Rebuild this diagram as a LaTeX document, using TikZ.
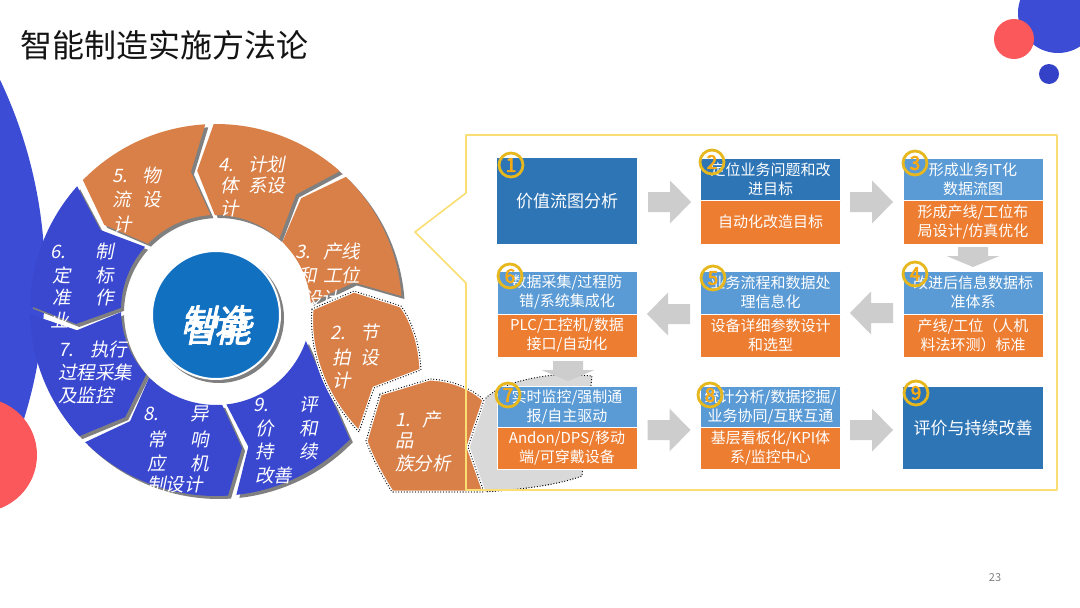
\documentclass[tikz,border=0pt]{standalone}
\usepackage{fontspec}
\newfontfamily\cjk{Noto Sans CJK SC}
\newfontfamily\cjkit[FakeSlant=0.2]{Noto Sans CJK SC}
\newfontfamily\cjkbi[FakeSlant=0.22,FakeBold=2.5]{Noto Sans CJK SC}
\newfontfamily\cjkb[FakeBold=3.5]{Noto Sans CJK SC}
\definecolor{worange}{RGB}{217,128,72}
\definecolor{wblue}{RGB}{58,72,208}
\definecolor{cblue}{RGB}{17,112,192}
\definecolor{shgrey}{RGB}{128,128,128}
\definecolor{decoblue}{RGB}{60,76,212}
\definecolor{decoblue2}{RGB}{52,66,200}
\definecolor{decored}{RGB}{250,88,90}
\definecolor{dblue}{RGB}{46,117,182}
\definecolor{lblue}{RGB}{91,155,213}
\definecolor{orng}{RGB}{237,125,49}
\definecolor{agrey}{RGB}{205,205,205}
\definecolor{ghost}{RGB}{217,217,217}
\definecolor{panely}{RGB}{250,222,115}
\definecolor{goldring}{RGB}{230,184,30}
\definecolor{goldnum}{RGB}{245,170,20}
\definecolor{titleblack}{RGB}{20,20,20}
\newcommand\wl[4]{\node[wtext] (#1) at (#2,#3) {#4};}
\newcommand\wc[2]{\makebox[#1pt][l]{#2}}
\begin{document}
\begin{tikzpicture}[x=1pt,y=-1pt,line join=round,
  wtext/.style={text=white,font=\cjkit\fontsize{18.5}{18.5}\selectfont,inner sep=0pt,anchor=west},
  ctext/.style={text=white,font=\cjkbi\fontsize{34}{34}\selectfont,inner sep=0pt},
  bx/.style={inner sep=0pt,outer sep=0pt,minimum width=140pt,text width=136pt,align=center,text=white,font=\cjk\fontsize{15}{19}\selectfont},
  half/.style={bx,draw=white,line width=0.6pt},
  badge/.style={circle,draw=goldring,line width=2.8pt,minimum size=24pt,inner sep=0pt,text=goldnum,font=\cjkb\fontsize{19}{19}\selectfont},
  dotline/.style={draw=black,line width=1.3pt,dash pattern=on 0pt off 2.8pt,line cap=round},
  harrow/.pic={\fill[agrey] (-21.5,-10) -- (0.5,-10) -- (0.5,-21.5) -- (21.5,0) -- (0.5,21.5) -- (0.5,10) -- (-21.5,10) -- cycle;},
  varrow/.pic={\fill[agrey] (-15,-10) -- (15,-10) -- (15,-1) -- (26.5,-1) -- (0,10) -- (-26.5,-1) -- (-15,-1) -- cycle;}
]
\useasboundingbox (0,0) rectangle (1080,608);
\clip (0,0) rectangle (1080,608);
\fill[white] (0,0) rectangle (1080,608);
% decorations
\fill[decoblue] (-422,280) circle[radius=467pt];
\fill[decored] (-20,455) circle[radius=57pt];
\fill[decoblue] (1058,13) circle[radius=40pt];
\fill[decored] (1014,39) circle[radius=20pt];
\fill[decoblue2] (1049,74) circle[radius=10pt];
% title
\node[anchor=west,inner sep=0pt,font=\cjk\fontsize{32}{32}\selectfont,text=titleblack] (title) at (20,45) {智能制造实施方法论};
% wheel
\begin{scope}[shift={(216,310)}]
\foreach \s/\e in {355.7/314.3,311.7/269.3,266.7/224.3,221.7/181.3,178.7/137.3,134.7/86.3}
{\fill[shgrey,shift={(3,3)}] (\s:186) arc[start angle=\s,end angle=\e,radius=186] -- ({\e-7}:140.5) -- (\e:95) arc[start angle=\e,end angle=\s,radius=95] -- ({\s-7}:140.5) -- cycle;}
\fill[shgrey,shift={(3,3)}] (83.7:186) arc[start angle=83.7,end angle=44,radius=186] -- (19:95) arc[start angle=19,end angle=83.7,radius=95] -- (76.7:140.5) -- cycle;
\foreach \s/\e/\c in {355.7/314.3/worange,311.7/269.3/worange,266.7/224.3/worange,221.7/181.3/wblue,178.7/137.3/wblue,134.7/86.3/wblue}
{\fill[\c] (\s:186) arc[start angle=\s,end angle=\e,radius=186] -- ({\e-7}:140.5) -- (\e:95) arc[start angle=\e,end angle=\s,radius=95] -- ({\s-7}:140.5) -- cycle;}
\fill[wblue] (83.7:186) arc[start angle=83.7,end angle=44,radius=186] -- (19:95) arc[start angle=19,end angle=83.7,radius=95] -- (76.7:140.5) -- cycle;
\fill[shgrey] (3,8) circle[radius=65pt];
\node[circle,fill=cblue,draw=white,line width=2pt,minimum size=128pt,inner sep=0pt] (ctr) at (0,5) {};
\end{scope}
\node[ctext] (c1) at (217,329) {智能};
\node[ctext] (c2) at (215,321) {制造};
% wheel texts
\wl{t5a}{112}{175}{\wc{30}{5.}物}
\wl{t5b}{112}{199}{\wc{30}{流}设}
\wl{t5c}{113}{224}{计}
\wl{t4a}{218}{164}{\wc{30}{4.}计划}
\wl{t4b}{220}{186}{\wc{28}{体}系设}
\wl{t4c}{220}{208}{计}
\wl{t3a}{295}{252}{\wc{28}{3.}产线}
\wl{t3b}{298}{275}{\wc{25}{和}工位}
\wl{t3c}{303}{299}{设计}
\wl{t9a}{253}{405}{\wc{46}{9.}评}
\wl{t9b}{255}{429}{\wc{44}{价}和}
\wl{t9c}{255}{451}{\wc{44}{持}续}
\wl{t9d}{255}{475}{改善}
\wl{t8a}{143}{414}{\wc{47}{8.}异}
\wl{t8b}{147}{439}{\wc{43}{常}响}
\wl{t8c}{147}{463}{\wc{43}{应}机}
\wl{t8d}{147}{485}{制设计}
\wl{t7a}{58}{349}{\wc{32}{7.}执行}
\wl{t7b}{58}{372}{过程采集}
\wl{t7c}{58}{395}{及监控}
\wl{t6a}{50}{251}{\wc{45}{6.}制}
\wl{t6b}{52}{275}{\wc{43}{定}标}
\wl{t6c}{52}{298}{\wc{43}{准}作}
\wl{t6d}{50}{320}{业}
% ghost callout
\path[fill=ghost,postaction={dotline}] (484,400) .. controls (496,386) and (525,377) .. (565,374) -- (592,376) -- (582,476) .. controls (555,486) and (515,490) .. (484,492) -- (468,447) -- cycle;
% segment 2
\path[fill=worange,draw=white,line width=3pt,postaction={dotline}] (312,309) -- (354,291) -- (401,306) .. controls (413,322) and (420,346) .. (421,370) -- (374,388) -- (359,432) .. controls (333,405) and (308,362) .. (312,309) -- cycle;
\wl{t2a}{330}{332}{\wc{30}{2.}节}
\wl{t2b}{332}{357}{\wc{28}{拍}设}
\wl{t2c}{332}{380}{计}
% segment 1
\path[fill=worange,draw=white,line width=3pt,postaction={dotline}] (380,394) -- (430,379) .. controls (452,380) and (471,388) .. (484,400) -- (468,447) -- (484,492) -- (392,492) .. controls (382,476) and (372,458) .. (366,441) -- cycle;
\wl{t1a}{395}{420}{\wc{27}{1.}产}
\wl{t1b}{395}{441}{品}
\wl{t1c}{395}{463}{族分析}
% panel
\draw[panely,line width=1.6pt] (466,135) -- (1057,135) -- (1057,490) -- (466,490) -- (466,283) -- (415,232) -- (466,193) -- cycle;
% boxes
\node[bx,fill=dblue,minimum height=86pt,font=\cjk\fontsize{17}{20}\selectfont] (box1) at (567,201) {价值流图分析};
\node[half,fill=dblue,minimum height=42pt] (box2t) at (770.5,179) {定位业务问题和改\\进目标};
\node[half,fill=orng,minimum height=44pt] (box2b) at (770.5,222) {自动化改造目标};
\node[half,fill=lblue,minimum height=42pt] (box3t) at (973,179) {形成业务IT化\\数据流图};
\node[half,fill=orng,minimum height=44pt] (box3b) at (973,222) {形成产线/工位布\\局设计/仿真优化};
\node[half,fill=lblue,minimum height=43pt] (box4t) at (973,292.5) {改进后信息数据标\\准体系};
\node[half,fill=orng,minimum height=43pt] (box4b) at (973,335.5) {产线/工位（人机\\料法环测）标准};
\node[half,fill=lblue,minimum height=43pt] (box5t) at (770.5,292.5) {业务流程和数据处\\理信息化};
\node[half,fill=orng,minimum height=43pt] (box5b) at (770.5,335.5) {设备详细参数设计\\和选型};
\node[half,fill=lblue,minimum height=43pt] (box6t) at (567,292.5) {数据采集/过程防\\错/系统集成化};
\node[half,fill=orng,minimum height=43pt] (box6b) at (567,335.5) {PLC/工控机/数据\\接口/自动化};
\node[half,fill=lblue,minimum height=41pt] (box7t) at (567,406.5) {实时监控/强制通\\报/自主驱动};
\node[half,fill=orng,minimum height=42pt] (box7b) at (567,448) {Andon/DPS/移动\\端/可穿戴设备};
\node[half,fill=lblue,minimum height=41pt] (box8t) at (770.5,406.5) {统计分析/数据挖掘/\\业务协同/互联互通};
\node[half,fill=orng,minimum height=42pt] (box8b) at (770.5,448) {基层看板化/KPI体\\系/监控中心};
\node[bx,fill=dblue,minimum height=82pt,font=\cjk\fontsize{17}{20}\selectfont] (box9) at (973,428) {评价与持续改善};
% arrows
\pic at (669.5,202) {harrow};
\pic at (871.5,202) {harrow};
\pic[rotate=180] at (871.5,313) {harrow};
\pic[rotate=180] at (668.5,314) {harrow};
\pic at (669,430) {harrow};
\pic at (871.5,430) {harrow};
\pic at (973,257) {varrow};
\pic at (568,371) {varrow};
% badges
\node[badge] (n1) at (511,165) {1};
\node[badge] (n2) at (712,162) {2};
\node[badge] (n3) at (915,163) {3};
\node[badge] (n4) at (915,274) {4};
\node[badge] (n5) at (713,278) {5};
\node[badge] (n6) at (510,276) {6};
\node[badge] (n7) at (508,395) {7};
\node[badge] (n8) at (710,395) {8};
\node[badge] (n9) at (916,393) {9};
% page number
\node[inner sep=0pt,font=\cjk\fontsize{11}{11}\selectfont,text=black!50] (pg) at (995,578) {23};
\end{tikzpicture}
\end{document}
